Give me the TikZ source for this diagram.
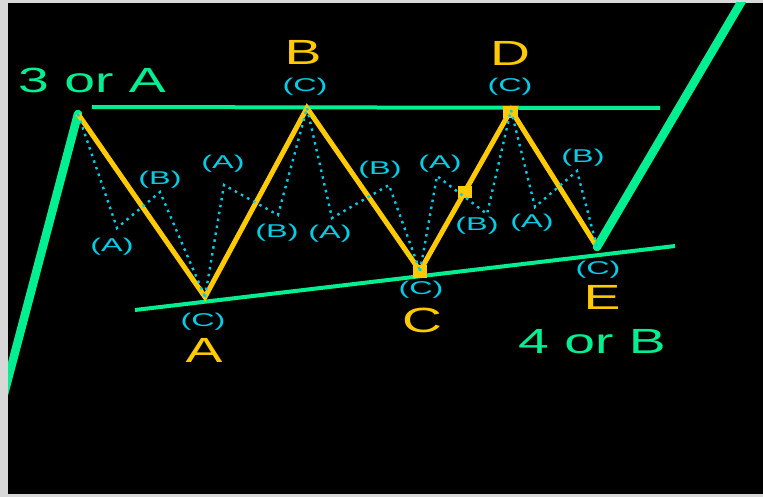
\documentclass[tikz,border=0pt]{standalone}
\usepackage{fontspec}
\setmainfont{Liberation Sans}
\usetikzlibrary{arrows.meta}

\definecolor{framegray}{RGB}{216,216,216}
\definecolor{wavegreen}{RGB}{0,240,145}
\definecolor{waveyellow}{RGB}{255,202,0}
\definecolor{subcyan}{RGB}{0,205,230}

\begin{document}
\begin{tikzpicture}[x=1pt,y=-1pt,
  impulse/.style={draw=wavegreen,line width=8.5pt,line cap=round,line join=round},
  trendline/.style={draw=wavegreen,line width=4pt},
  zigzag/.style={draw=waveyellow,line width=5pt,line join=miter},
  subwave/.style={draw=subcyan,line width=2.4pt,dash pattern=on 2.5pt off 4.5pt},
  biglbl/.style={font=\fontsize{35}{35}\selectfont,xscale=1.58,inner sep=0pt},
  sublbl/.style={text=subcyan,font=\fontsize{18.5}{18.5}\selectfont,xscale=1.75,inner sep=0pt},
  pivotbox/.style={fill=waveyellow}]
  \useasboundingbox (0,0) rectangle (763,497);
  \fill[framegray] (0,0) rectangle (763,497);
  \fill[black] (8,3) rectangle (763,494);

  % main pivots
  \coordinate (w0) at (78,114);
  \coordinate (wA) at (205,297);
  \coordinate (wB) at (307,108);
  \coordinate (wC) at (420,271);
  \coordinate (wD) at (511,110);
  \coordinate (wE) at (597,247);
  % sub-wave pivots
  \coordinate (a1) at (117,228); \coordinate (b1) at (160,192);
  \coordinate (a2) at (224,185); \coordinate (b2) at (278,215);
  \coordinate (a3) at (332,218); \coordinate (b3) at (389,185);
  \coordinate (a4) at (437,176); \coordinate (b4) at (487,214);
  \coordinate (a5) at (535,207); \coordinate (b5) at (577,171);
  % trend lines
  \coordinate (topL) at (92,107);  \coordinate (topR) at (660,108);
  \coordinate (botL) at (135,310); \coordinate (botR) at (675,246);
  \coordinate (inS) at (4,394);    \coordinate (outT) at (746,-6);

  \begin{scope}
    \clip (8,3) rectangle (763,494);
    \draw[trendline] (topL) -- (topR);
    \draw[trendline] (botL) -- (botR);
    \draw[impulse] (inS) -- (w0);
    \draw[zigzag] (w0) -- (wA) -- (wB) -- (wC) -- (wD) -- (wE);
    \fill[pivotbox] (413,265) rectangle (427,278);
    \fill[pivotbox] (503,106) rectangle (518,118);
    \fill[pivotbox] (458,186) rectangle (472,198);
    \draw[impulse] (wE) -- (outT);
    \draw[subwave] (w0) -- (a1) -- (b1) -- (wA);
    \draw[subwave] (wA) -- (a2) -- (b2) -- (wB);
    \draw[subwave] (wB) -- (a3) -- (b3) -- (wC);
    \draw[subwave] (wC) -- (a4) -- (b4) -- (wD);
    \draw[subwave] (wD) -- (a5) -- (b5) -- (wE);
  \end{scope}

  % labels
  \node[biglbl,text=wavegreen] (lbl3A) at (92,80) {3 or A};
  \node[biglbl,text=wavegreen] (lbl4B) at (592,342) {4 or B};
  \node[biglbl,text=waveyellow] (lblA) at (204,350) {A};
  \node[biglbl,text=waveyellow] (lblB) at (303,52) {B};
  \node[biglbl,text=waveyellow] (lblC) at (422,320) {C};
  \node[biglbl,text=waveyellow] (lblD) at (510,53) {D};
  \node[biglbl,text=waveyellow] (lblE) at (602,297) {E};
  \node[sublbl] (cA) at (203,322) {(C)};
  \node[sublbl] (cB) at (305,87) {(C)};
  \node[sublbl] (cC) at (421,290) {(C)};
  \node[sublbl] (cD) at (510,87) {(C)};
  \node[sublbl] (cE) at (598,270) {(C)};
  \node[sublbl] (sa1) at (112,247) {(A)};
  \node[sublbl] (sb1) at (160,180) {(B)};
  \node[sublbl] (sa2) at (223,164) {(A)};
  \node[sublbl] (sb2) at (277,233) {(B)};
  \node[sublbl] (sa3) at (330,234) {(A)};
  \node[sublbl] (sb3) at (380,170) {(B)};
  \node[sublbl] (sa4) at (440,164) {(A)};
  \node[sublbl] (sb4) at (477,226) {(B)};
  \node[sublbl] (sa5) at (532,223) {(A)};
  \node[sublbl] (sb5) at (583,158) {(B)};
\end{tikzpicture}
\end{document}
